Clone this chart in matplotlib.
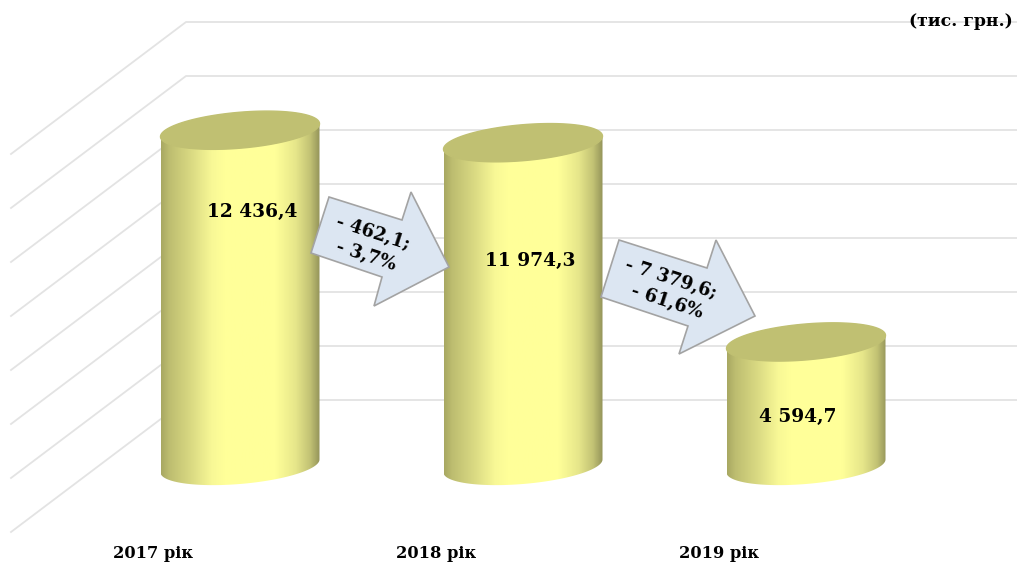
import numpy as np
import matplotlib
matplotlib.use('Agg')
import matplotlib.pyplot as plt
from matplotlib.colors import LinearSegmentedColormap
from matplotlib.patches import PathPatch, Polygon
from matplotlib.path import Path

years = ['2017 рік', '2018 рік', '2019 рік']
values = [12436.4, 11974.3, 4594.7]
value_labels = ['12 436,4', '11 974,3', '4 594,7']
grid_levels = [2000, 4000, 6000, 8000, 10000, 12000, 14000, 16000]
change_labels = [['- 462,1;', '- 3,7%'], ['- 7 379,6;', '- 61,6%']]
unit_label = '(тис. грн.)'

W, H = 1017, 562
# layout in pixels
X0, DX = 240, 283      # first cylinder centre, step between cylinders
Y0, PX_PER_UNIT = 466, 0.027
RX, RY, TILT = 79.5, 18, 6.5

plt.rcParams['font.family'] = ['DejaVu Serif']
fig = plt.figure(figsize=(W / 100, H / 100), dpi=100)

# value axes: x = category number, y = thousand UAH
ax = fig.add_axes([0, 0, 1, 1])
ax.axis('off')

# overlay in pixels for arrows and texts
ov = fig.add_axes([0, 0, 1, 1], zorder=5)
ov.set_xlim(0, W)
ov.set_ylim(H, 0)
ov.axis('off')
ov.patch.set_alpha(0)


def cx(px):
    return (px - X0) / DX


def dy(px):
    return px / PX_PER_UNIT


# back wall and side wall lines
for level in grid_levels:
    wall = level + dy(12)
    ax.plot([cx(11), cx(186), cx(W)], [wall - dy(132), wall, wall],
            color='#e3e3e3', lw=1.3, zorder=1)

cmap = LinearSegmentedColormap.from_list('cyl', [
    (0.0, '#a8a862'), (0.05, '#bdbd70'), (0.2, '#dcdc84'), (0.32, '#f8f896'),
    (0.4, '#ffff99'), (0.72, '#ffff99'), (0.85, '#e6e68a'), (0.94, '#c2c274'), (1.0, '#94945a')])
grad = np.linspace(0, 1, 256).reshape(1, -1)

a = RX / DX
b = dy(RY)
s = dy(TILT)
t = np.linspace(0, 2 * np.pi, 200)
tb = np.linspace(np.pi, 0, 100)
for i, v in enumerate(values):
    # body: sides plus lower half of the base ellipse
    xs = np.concatenate([[i - a], i + a * np.cos(tb), [i + a]])
    ys = np.concatenate([[v - s], -b * np.sin(tb) + s * np.cos(tb), [v + s]])
    verts = np.column_stack([xs, ys])
    body = PathPatch(Path(np.vstack([verts, verts[0]])), fc='none', ec='none', transform=ax.transData)
    ax.add_patch(body)
    im = ax.imshow(grad, cmap=cmap, extent=[i - a, i + a, -b - s, v + s], aspect='auto', zorder=2)
    im.set_clip_path(body)
    # top
    ax.fill(i + a * np.cos(t), v + b * np.sin(t) + s * np.cos(t), color='#c0c072', zorder=3)

ax.set_xlim((0 - X0) / DX, (W - X0) / DX)
ax.set_ylim((Y0 - H) / PX_PER_UNIT, Y0 / PX_PER_UNIT)

# change arrows
arrow1 = [(329, 197), (402, 220), (411, 192), (449, 267), (374, 306), (382, 277), (311, 253)]
arrow2 = [(619, 240), (707, 268), (716, 240), (755, 316), (679, 354), (688, 326), (601, 297)]
ov.add_patch(Polygon(arrow1, fc='#dce6f2', ec='#a3a3a3', lw=1.2))
ov.add_patch(Polygon(arrow2, fc='#dce6f2', ec='#a3a3a3', lw=1.2))

txt = dict(color='black', fontweight='bold', ha='center', va='center')
ov.text(373, 233, change_labels[0][0], fontsize=13, rotation=-18, **txt)
ov.text(366, 256, change_labels[0][1], fontsize=13, rotation=-18, **txt)
ov.text(671, 279, change_labels[1][0], fontsize=13, rotation=-18, **txt)
ov.text(667, 302, change_labels[1][1], fontsize=13, rotation=-18, **txt)

label_pos = [(252, 212), (530, 261), (798, 417)]
for (lx, ly), lab in zip(label_pos, value_labels):
    ov.text(lx, ly, lab, fontsize=13.4, **txt)

for i, y in enumerate(years):
    ov.text(153 + DX * i, 554, y, fontsize=11.7, **txt)

ov.text(961, 21, unit_label, fontsize=12.4, **txt)

fig.savefig('out.png', dpi=100)
